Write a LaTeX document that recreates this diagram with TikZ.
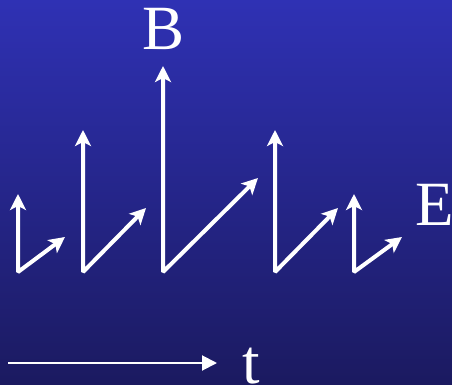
\documentclass[tikz,border=0pt]{standalone}
\usepackage{fontspec}
\setmainfont{Liberation Serif}
\usetikzlibrary{arrows.meta}
\definecolor{bgtop}{RGB}{47,49,180}
\definecolor{bgbot}{RGB}{27,26,96}
\begin{document}
\begin{tikzpicture}[x=1pt,y=1pt,
  vec/.style={draw=white,line width=4pt,line join=bevel,
    {Stealth[length=16pt,width=16pt,inset=4pt]}-{Stealth[length=16pt,width=16pt,inset=4pt]}},
  axis/.style={draw=white,line width=2pt,-{Triangle[length=15pt,width=15pt]}},
  lab/.style={text=white,font=\fontsize{63}{63}\selectfont,inner sep=0pt}]
\useasboundingbox (0,0) rectangle (452,384);
\shade[top color=bgtop,bottom color=bgbot] (0,0) rectangle (452,384);
% pairs of field vectors
\coordinate (o1) at (18,112);  \coordinate (v1) at (18,190);  \coordinate (d1) at (65,147);
\coordinate (o2) at (83,112);  \coordinate (v2) at (83,254);  \coordinate (d2) at (146,176);
\coordinate (o3) at (163,112); \coordinate (v3) at (163,318); \coordinate (d3) at (258,206);
\coordinate (o4) at (275,112); \coordinate (v4) at (275,254); \coordinate (d4) at (338,176);
\coordinate (o5) at (354,112); \coordinate (v5) at (354,190); \coordinate (d5) at (402,147);
\foreach \i in {1,...,5} \draw[vec] (v\i) -- (o\i) -- (d\i);
% time axis
\coordinate (ta) at (8,21);
\coordinate (tb) at (217,21);
\draw[axis] (ta) -- (tb);
% labels
\node[lab,anchor=base] (B) at (163.5,335) {B};
\node[lab,anchor=base west] (E) at (415,159) {E};
\node[lab,anchor=base west] (t) at (242,1) {t};
\end{tikzpicture}
\end{document}
